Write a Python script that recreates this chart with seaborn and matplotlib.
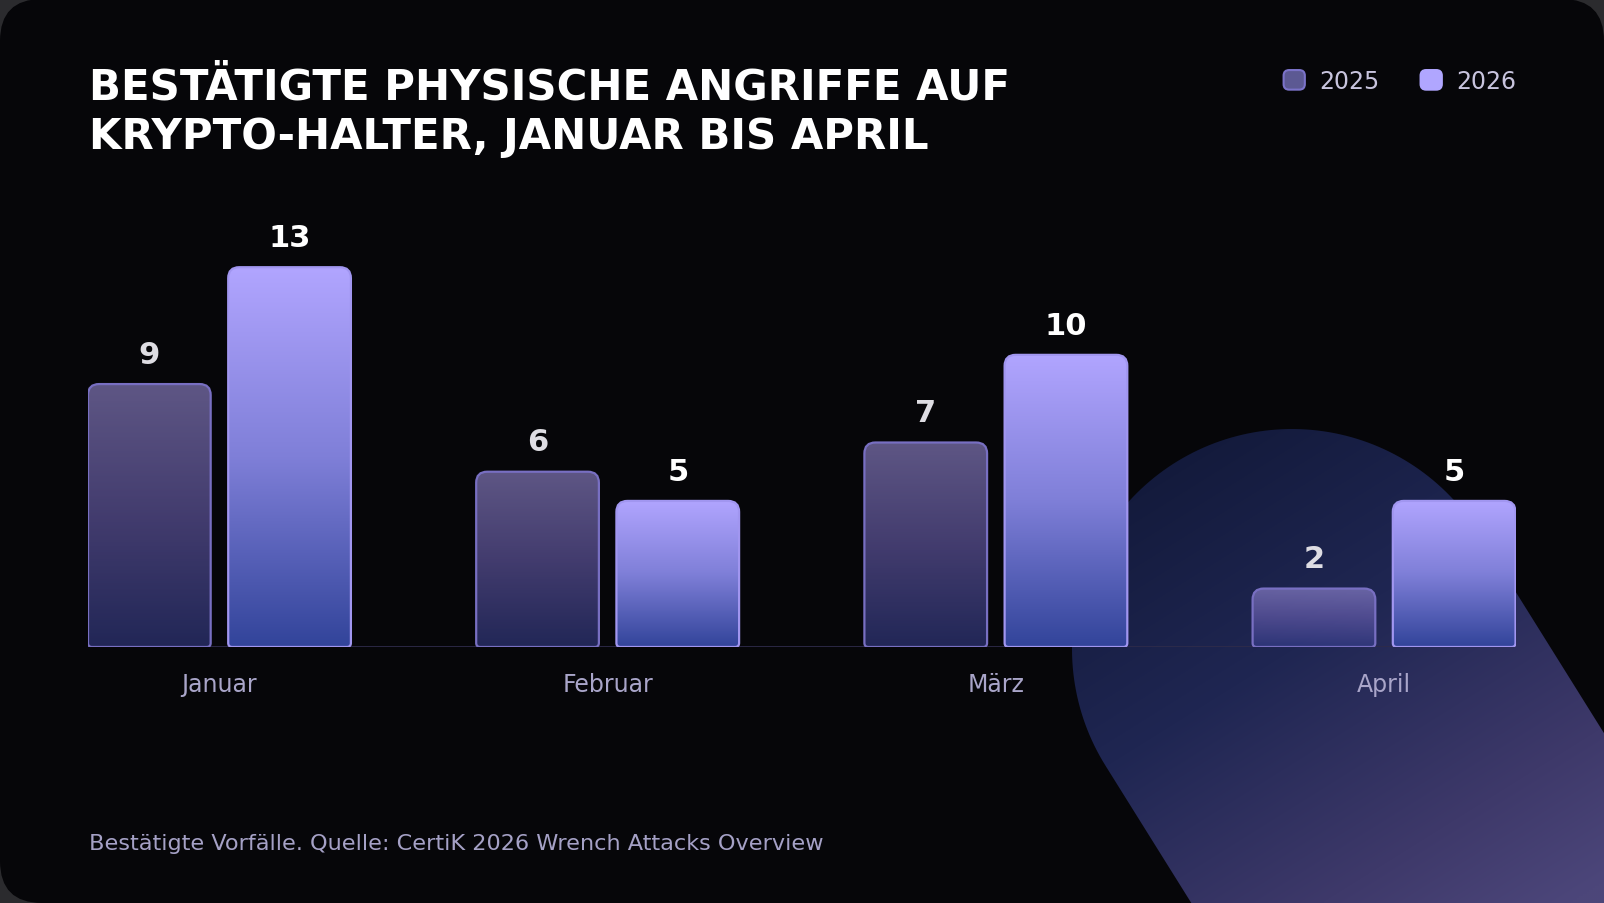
import numpy as np
import pandas as pd
import matplotlib
matplotlib.use("Agg")
import matplotlib.pyplot as plt
import seaborn as sns
from matplotlib.path import Path
from matplotlib.patches import PathPatch, FancyBboxPatch, Patch
from matplotlib.legend_handler import HandlerPatch
from matplotlib.colors import to_rgb

# ---------------- data ----------------
months = ["Januar", "Februar", "März", "April"]
years = ["2025", "2026"]
values_2025 = [9, 6, 7, 2]
values_2026 = [13, 5, 10, 5]
title_lines = ["BESTÄTIGTE PHYSISCHE ANGRIFFE AUF", "KRYPTO-HALTER, JANUAR BIS APRIL"]
footnote = "Bestätigte Vorfälle. Quelle: CertiK 2026 Wrench Attacks Overview"

df = pd.DataFrame({
    "Monat": months * 2,
    "Jahr": [years[0]] * 4 + [years[1]] * 4,
    "Angriffe": values_2025 + values_2026,
})

# ---------------- style ----------------
sns.set_theme(style="dark")
plt.rcParams["font.family"] = ["DejaVu Sans"]

W, H = 1604, 904
DPI = 100
fig = plt.figure(figsize=(W / DPI, H / DPI), dpi=DPI)
fig.patch.set_facecolor("#2b2b2e")

# background layer in pixel coordinates
bg = fig.add_axes([0, 0, 1, 1], zorder=0)
bg.set_xlim(0, W)
bg.set_ylim(H, 0)
bg.axis("off")
card = FancyBboxPatch((0, 0), W, H, boxstyle="round,pad=0,rounding_size=42",
                      facecolor="#060609", edgecolor="none", zorder=0)
bg.add_patch(card)

# decorative blob (stadium shape)
C = np.array([1292.0, 650.0])
R = 220.0
ang = np.deg2rad(58)
d = np.array([np.cos(ang), np.sin(ang)])
n = np.array([np.sin(ang), -np.cos(ang)])
th = np.linspace(0, np.pi, 120)
arc = np.array([C + R * (np.cos(t) * n + np.sin(t) * (-d)) for t in th])
far = 900
pts = np.vstack([arc, C - R * n + far * d, C + R * n + far * d, arc[:1]])
codes = [Path.MOVETO] + [Path.LINETO] * (len(pts) - 2) + [Path.CLOSEPOLY]
blob = PathPatch(Path(pts, codes), facecolor="none", edgecolor="none", zorder=1)
bg.add_patch(blob)
yy, xx = np.mgrid[0:H:2, 0:W:2]
s = (xx - C[0]) * d[0] + (yy - C[1]) * d[1]
stops_s = [-230, 0, 230, 360]
stops_c = [to_rgb("#131a3b"), to_rgb("#1f2652"), to_rgb("#3e396a"), to_rgb("#4c467a")]
img = np.zeros(s.shape + (3,))
for k in range(3):
    img[..., k] = np.interp(s, stops_s, [c[k] for c in stops_c])
im = bg.imshow(img, extent=(0, W, H, 0), aspect="auto", zorder=1, interpolation="bilinear")
im.set_clip_path(blob)

# outer corners overlay (outside rounded card)
outer = Path([(0, 0), (W, 0), (W, H), (0, H), (0, 0)],
             [Path.MOVETO, Path.LINETO, Path.LINETO, Path.LINETO, Path.CLOSEPOLY])
inner_patch = FancyBboxPatch((0, 0), W, H, boxstyle="round,pad=0,rounding_size=42")
inner_path = inner_patch.get_boxstyle()(0, 0, W, H, 1.0)
poly = inner_path.interpolated(20).vertices
iv = poly[::-1]
ic = [Path.MOVETO] + [Path.LINETO] * (len(iv) - 2) + [Path.CLOSEPOLY]
corner_path = Path.make_compound_path(outer, Path(iv, ic))
bg.add_patch(PathPatch(corner_path, facecolor="#2b2b2e", edgecolor="none", zorder=5))

# ---------------- main chart ----------------
base_y = 648.0
x_left, x_right = 88.0, 1515.5
top_y = 239.0
ax = fig.add_axes([x_left / W, (H - base_y) / H, (x_right - x_left) / W, (base_y - top_y) / H], zorder=2)
ax.set_facecolor("none")

pal = {"2025": "#5c5993", "2026": "#b0a6ff"}
sns.barplot(data=df, x="Monat", y="Angriffe", hue="Jahr", palette=pal, width=0.7224, gap=0.125,
            saturation=1, legend=False, ax=ax, err_kws={"linewidth": 0})

XL = (-0.3386, 3.3386)
YL = (0, 14)
ax.set_xlim(*XL)
ax.set_ylim(*YL)
for sp in ax.spines.values():
    sp.set_visible(False)
ax.set_yticks([])
ax.set_xlabel("")
ax.set_ylabel("")
ax.grid(False)
ax.tick_params(axis="x", length=0, pad=18, labelsize=17, labelcolor="#a9a5c9")
ax.axhline(0, color="#2e2b4a", lw=2, zorder=1)

px_x = (x_right - x_left) / (XL[1] - XL[0])
px_y = (base_y - top_y) / (YL[1] - YL[0])


def bar_path(x0, x1, y0, y1, rt=11.0, rb=4.0):
    tx, ty = rt / px_x, rt / px_y
    bx, by = rb / px_x, rb / px_y
    v = [(x0 + bx, y0), (x1 - bx, y0), (x1, y0), (x1, y0 + by), (x1, y1 - ty),
         (x1, y1), (x1 - tx, y1), (x0 + tx, y1), (x0, y1), (x0, y1 - ty),
         (x0, y0 + by), (x0, y0), (x0 + bx, y0), (x0 + bx, y0)]
    c = [Path.MOVETO, Path.LINETO, Path.CURVE3, Path.CURVE3, Path.LINETO,
         Path.CURVE3, Path.CURVE3, Path.LINETO, Path.CURVE3, Path.CURVE3,
         Path.LINETO, Path.CURVE3, Path.CURVE3, Path.CLOSEPOLY]
    return Path(v, c)


grads = {
    "2025": (["#a597e8", "#7468c0", "#384195"], "#786fc2", 0.56, "#dedde3"),
    "2026": (["#b1a5ff", "#7f7fd8", "#32449a"], "#a196f0", 1.0, "#ffffff"),
}

for yr, cont in zip(years, ax.containers):
    cols, edge, alpha, lab_col = grads[yr]
    rgb = np.array([to_rgb(c) for c in cols])
    t = np.linspace(0, 1, 256)
    g = np.zeros((256, 1, 3))
    for k in range(3):
        g[:, 0, k] = np.interp(t, [0, 0.5, 1], rgb[:, k])
    for bar in cont:
        x0 = bar.get_x()
        x1 = x0 + bar.get_width()
        h = bar.get_height()
        bar.set_facecolor("none")
        bar.set_edgecolor("none")
        p = PathPatch(bar_path(x0, x1, 0, h), facecolor="none", edgecolor=edge, lw=1.6, zorder=4)
        ax.add_patch(p)
        gi = ax.imshow(g, extent=(x0, x1, 0, h), origin="upper", aspect="auto", zorder=3,
                       alpha=alpha, interpolation="bilinear")
        gi.set_clip_path(p)
    ax.bar_label(cont, labels=[str(int(b.get_height())) for b in cont], padding=11,
                 fontsize=22, fontweight="bold", color=lab_col)

ax.set_xlim(*XL)
ax.set_ylim(*YL)

# ---------------- title & footnote ----------------
fig.text(89 / W, 1 - 99 / H, title_lines[0], fontsize=30.2, fontweight="bold", color="#ffffff",
         ha="left", va="baseline")
fig.text(89 / W, 1 - 149 / H, title_lines[1], fontsize=30.2, fontweight="bold", color="#ffffff",
         ha="left", va="baseline")
fig.text(89 / W, 1 - 850 / H, footnote, fontsize=16.1, color="#a5a1c6",
         ha="left", va="baseline")


# ---------------- legend ----------------
def swatch(legend, orig_handle, xdescent, ydescent, width, height, fontsize):
    return FancyBboxPatch((-xdescent, -ydescent), width, height,
                          boxstyle="round,pad=0,rounding_size=4")


handles = [Patch(facecolor=pal["2025"], edgecolor="#7b73c9", lw=1.5, label="2025"),
           Patch(facecolor=pal["2026"], edgecolor=pal["2026"], lw=1.5, label="2026")]
leg = ax.legend(handles=handles, loc="center right", bbox_to_anchor=(1516 / W, 1 - 82 / H),
                bbox_transform=fig.transFigure, ncol=2, frameon=False, fontsize=17,
                handlelength=0.9, handleheight=0.9, handletextpad=0.6, columnspacing=1.75,
                borderpad=0, borderaxespad=0,
                handler_map={Patch: HandlerPatch(patch_func=swatch)})
for t in leg.get_texts():
    t.set_color("#c8c4de")

fig.savefig("out.png", dpi=DPI, facecolor=fig.get_facecolor())
